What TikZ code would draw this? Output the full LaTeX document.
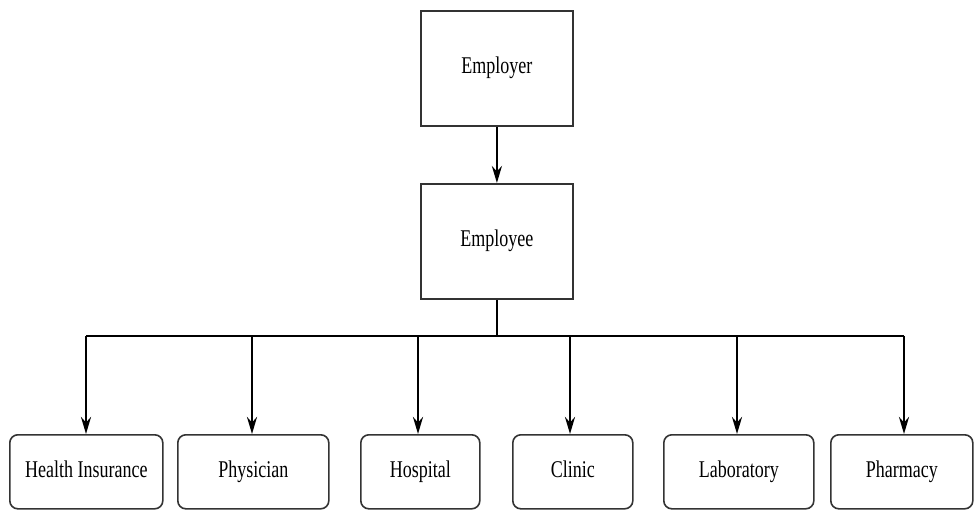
\documentclass[tikz,border=0pt]{standalone}
\usepackage{fontspec}
\setmainfont[FakeStretch=0.75]{Liberation Serif}
\usetikzlibrary{arrows.meta}
\begin{document}
\begin{tikzpicture}[x=1pt,y=-1pt,
  txt/.style={font=\fontsize{24}{26}\selectfont,text height=15pt,text depth=4pt},
  topbox/.style={txt,draw=black!80,line width=1.8pt,minimum width=152pt,minimum height=115pt,inner sep=0pt,anchor=north west},
  leafbox/.style={txt,draw=black!80,line width=1.6pt,rounded corners=8pt,minimum height=74pt,inner sep=0pt,anchor=north west},
  conn/.style={line width=2.6pt,black},
  arr/.style={conn,-{Stealth[length=17pt,width=10pt]}}]
\useasboundingbox (0,0) rectangle (974,510);
\node[topbox] (employer) at (420,10) {Employer};
\node[topbox] (employee) at (420,183) {Employee};
\node[leafbox,minimum width=153pt] (hi) at (9,434) {Health Insurance};
\node[leafbox,minimum width=151pt] (phys) at (177,434) {Physician};
\node[leafbox,minimum width=119pt] (hosp) at (360,434) {Hospital};
\node[leafbox,minimum width=120pt] (clin) at (512,434) {Clinic};
\node[leafbox,minimum width=150pt] (lab) at (663,434) {Laboratory};
\node[leafbox,minimum width=142pt] (pharm) at (830,434) {Pharmacy};
\coordinate (bus) at (496,336);
\draw[arr] (employer.south) -- (employee.north);
\draw[conn] (employee.south) -- (employee.south |- bus);
\draw[conn] (86,336) coordinate (bl) -- (904,336) coordinate (br);
\draw[arr] (bl) -- (bl |- hi.north);
\draw[arr] (252,336) coordinate (b2) -- (b2 |- phys.north);
\draw[arr] (418,336) coordinate (b3) -- (b3 |- hosp.north);
\draw[arr] (570,336) coordinate (b4) -- (b4 |- clin.north);
\draw[arr] (737,336) coordinate (b5) -- (b5 |- lab.north);
\draw[arr] (br) -- (br |- pharm.north);
\end{tikzpicture}
\end{document}
